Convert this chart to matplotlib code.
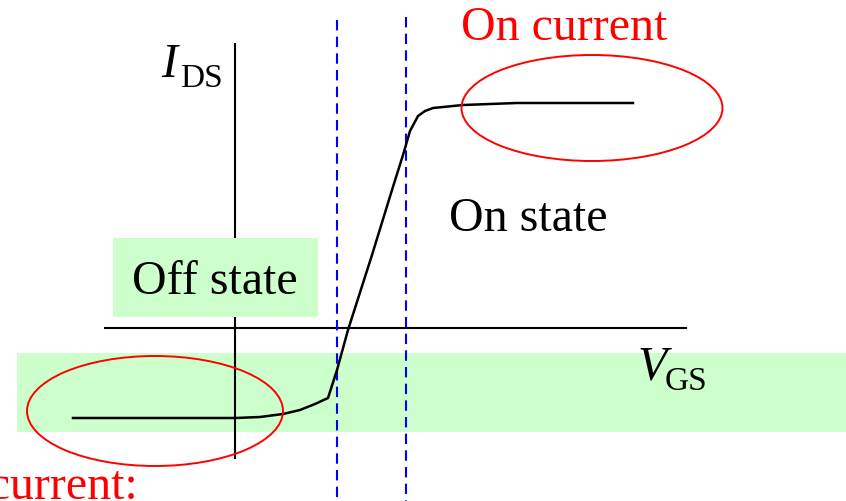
import matplotlib.pyplot as plt
from matplotlib.patches import Ellipse, Rectangle

# transfer curve I_DS vs V_GS (pixel coordinates)
curve_x = [73, 150, 235, 260, 283, 300, 315, 328, 337, 348, 372, 392, 403, 410, 418, 425, 433, 463, 517, 580, 633]
curve_y = [418, 418, 418, 417, 414, 410, 404, 398, 370, 330, 255, 190, 155, 131, 116, 111, 108, 105, 103, 103, 103]

threshold_x = [337, 406]
threshold_top = [20, 17]

plt.rcParams['font.family'] = ['Liberation Serif', 'DejaVu Serif']

fig = plt.figure(figsize=(8.46, 5.01), dpi=100)
ax = fig.add_axes([0, 0, 1, 1])
ax.set_xlim(0, 846)
ax.set_ylim(501, 0)
ax.axis('off')

green = '#ccffcc'
# green band behind the off-current region, and the box over the axis
ax.add_patch(Rectangle((17, 353), 829, 79, color=green, lw=0, zorder=0))
ax.add_patch(Rectangle((113, 238), 205, 79, color=green, lw=0, zorder=3))

# axes
ax.plot([235, 235], [44, 458], color='black', lw=1.5, zorder=2)
ax.plot([105, 686], [328, 328], color='black', lw=1.5, zorder=2)

# threshold dashed lines
for x, top in zip(threshold_x, threshold_top):
    ax.plot([x, x], [top, 501], color='blue', lw=1.5, ls=(0, (5, 3)), zorder=3)

# curve
ax.plot(curve_x, curve_y, color='black', lw=1.8, zorder=4, solid_joinstyle='round')

# ellipses
ax.add_patch(Ellipse((155, 411), 256, 110, fill=False, ec='red', lw=1.4, zorder=5))
ax.add_patch(Ellipse((592, 108), 261, 106, fill=False, ec='red', lw=1.4, zorder=5))

# text
fs = 34.5
ax.text(564, 40, 'On current', color='red', fontsize=fs, ha='center', va='baseline')
ax.text(528, 231, 'On state', color='black', fontsize=fs, ha='center', va='baseline')
ax.text(215, 294, 'Off state', color='black', fontsize=fs, ha='center', va='baseline', zorder=6)
ax.text(138, 499, 'Off current:', color='red', fontsize=fs, ha='right', va='baseline')

ax.text(161, 77, 'I', fontsize=fs, style='italic', va='baseline')
ax.text(180, 87, 'DS', fontsize=24, va='baseline')
ax.text(637, 380, 'V', fontsize=fs, style='italic', va='baseline')
ax.text(665, 390, 'GS', fontsize=24, va='baseline')

fig.savefig('out.png', dpi=100)
